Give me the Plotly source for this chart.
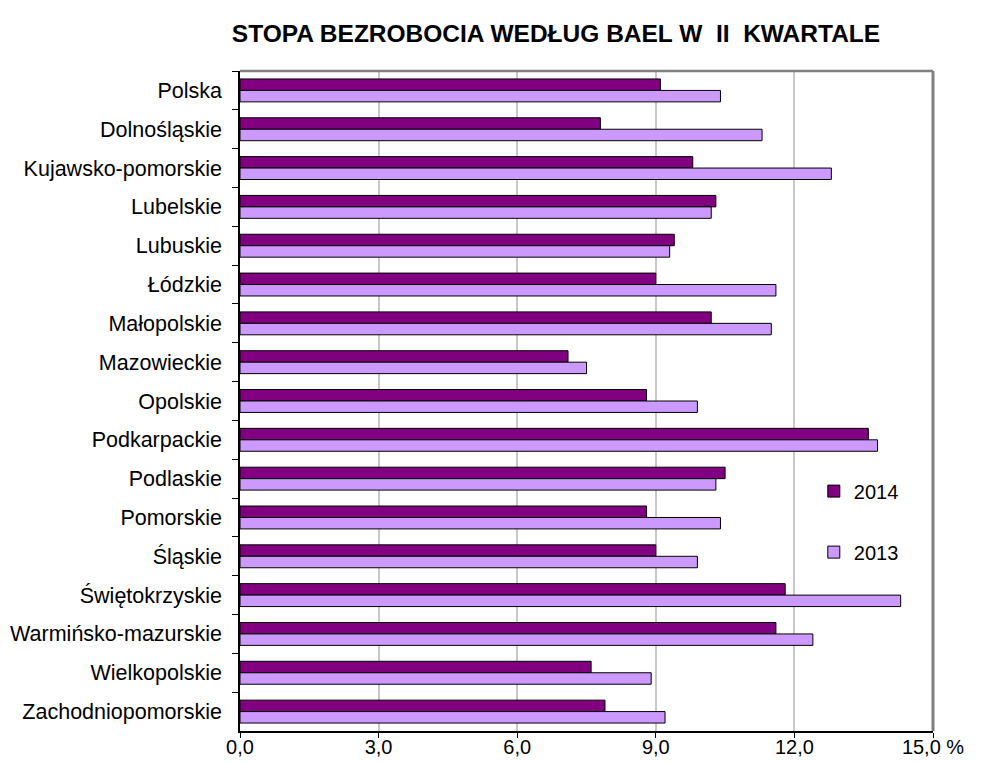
import plotly.graph_objects as go

categories = ["Polska", "Dolnośląskie", "Kujawsko-pomorskie", "Lubelskie", "Lubuskie",
              "Łódzkie", "Małopolskie", "Mazowieckie", "Opolskie", "Podkarpackie",
              "Podlaskie", "Pomorskie", "Śląskie", "Świętokrzyskie",
              "Warmińsko-mazurskie", "Wielkopolskie", "Zachodniopomorskie"]
values_2014 = [9.1, 7.8, 9.8, 10.3, 9.4, 9.0, 10.2, 7.1, 8.8, 13.6, 10.5, 8.8, 9.0, 11.8, 11.6, 7.6, 7.9]
values_2013 = [10.4, 11.3, 12.8, 10.2, 9.3, 11.6, 11.5, 7.5, 9.9, 13.8, 10.3, 10.4, 9.9, 14.3, 12.4, 8.9, 9.2]
tick_vals = [0, 3, 6, 9, 12, 15]
tick_text = ["0,0", "3,0", "6,0", "9,0", "12,0", "15,0 %"]

FONT = "Liberation Sans, Arial, sans-serif"
W, H = 974, 756  # page body has an 8px margin

fig = go.Figure()
fig.add_trace(go.Bar(
    y=categories, x=values_2014, name="2014", orientation="h",
    marker=dict(color="#800080", line=dict(color="black", width=1)),
    legendgroup="a"))
fig.add_trace(go.Bar(
    y=categories, x=values_2013, name="2013", orientation="h",
    marker=dict(color="#CC99FF", line=dict(color="black", width=1)),
    legendgroup="b"))

fig.update_layout(
    width=W, height=H,
    margin=dict(l=232, r=49, t=63, b=33, autoexpand=False),
    paper_bgcolor="white", plot_bgcolor="white",
    font=dict(family=FONT, size=21, color="black"),
    barmode="group", bargap=0.41, bargroupgap=0,
    title=dict(text="STOPA BEZROBOCIA WEDŁUG BAEL W\u00a0\u00a0II\u00a0\u00a0KWARTALE",
               font=dict(family=FONT, size=24.5, color="black", weight="bold"),
               x=548 / W, xref="container", xanchor="center",
               y=1 - 25 / H, yref="container", yanchor="middle"),
    showlegend=True,
    legend=dict(x=0.828, y=0.393, xanchor="left", yanchor="top",
                traceorder="grouped", tracegroupgap=32,
                font=dict(family=FONT, size=20), bgcolor="rgba(0,0,0,0)"),
    xaxis=dict(range=[0, 15], tickvals=tick_vals, ticktext=tick_text,
               showgrid=True, gridcolor="#c8c8c8", gridwidth=1.5,
               zeroline=False, showline=True, linecolor="black", linewidth=1.5,
               ticks="outside", ticklen=5, tickcolor="black",
               ticklabelstandoff=-8, automargin=False,
               tickfont=dict(family=FONT, size=20)),
    yaxis=dict(autorange="reversed", showline=True, linecolor="black", linewidth=1.5,
               ticks="outside", ticklen=6, tickcolor="black", tickson="boundaries",
               showgrid=False, ticklabelstandoff=12, automargin=False,
               tickfont=dict(family=FONT, size=21.5)),
    shapes=[
        dict(type="line", xref="paper", yref="paper", x0=0, x1=1, y0=1, y1=1,
             line=dict(color="#808080", width=2.5)),
        dict(type="line", xref="paper", yref="paper", x0=1, x1=1, y0=0, y1=1,
             line=dict(color="#808080", width=3)),
    ],
)

fig.write_html("out.html")
